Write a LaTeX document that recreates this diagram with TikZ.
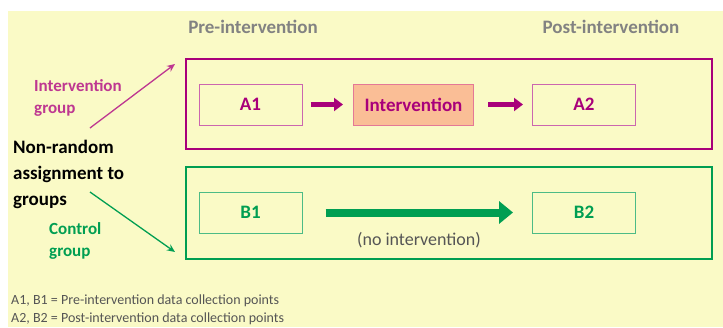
\documentclass[tikz,border=0pt]{standalone}
\usepackage{fontspec}
\setmainfont{Carlito}
\usepackage{xcolor}
\usetikzlibrary{arrows.meta}

\definecolor{bgyellow}{RGB}{250,250,198}
\definecolor{grpmag}{RGB}{168,0,122}
\definecolor{labmag}{RGB}{190,55,145}
\definecolor{intfill}{RGB}{250,190,150}
\definecolor{intdraw}{RGB}{228,120,150}
\definecolor{grpgreen}{RGB}{0,158,82}
\definecolor{headgray}{RGB}{130,130,130}
\definecolor{notegray}{RGB}{85,85,85}

\tikzset{
  groupbox/.style={draw, line width=2pt, minimum width=526pt, inner sep=0pt},
  pointbox/.style={draw, line width=1pt, minimum width=103pt, minimum height=41pt,
    inner sep=0pt, font=\fontsize{19}{22}\selectfont\bfseries},
  head/.style={text=headgray, font=\fontsize{19}{22}\selectfont\bfseries, inner sep=0pt},
  fat/.style={line width=5pt, -{Triangle[length=9pt,width=13pt]}},
}

\begin{document}
\begin{tikzpicture}[x=1pt,y=-1pt]
		\useasboundingbox (0,0) rectangle (723,327);
		\fill[white] (0,0) rectangle (723,327);
		\fill[bgyellow] (8,11) rectangle (723,327);
		% column heads
		\node[head, anchor=base] (pre) at (253,33) {Pre-intervention};
		\node[head, anchor=base] (post) at (611,33) {Post-intervention};
		% groups
		\node[groupbox, draw=grpmag, minimum height=90pt] (igrp) at (449,103.5) {};
		\node[groupbox, draw=grpgreen, minimum height=92pt] (cgrp) at (449,212.5) {};
		\node[pointbox, draw=grpmag!60, text=grpmag] (a1) at (250.5,104.5) {A1};
		\node[pointbox, draw=intdraw, fill=intfill, text=grpmag, minimum width=120pt] (int) at (413.5,104.5) {Intervention};
		\node[pointbox, draw=grpmag!60, text=grpmag] (a2) at (584,104.5) {A2};
		\node[pointbox, draw=grpgreen!70, text=grpgreen] (b1) at (250.5,212.5) {B1};
		\node[pointbox, draw=grpgreen!70, text=grpgreen] (b2) at (584,212.5) {B2};
		\draw[fat, grpmag, shorten <=8pt, shorten >=10pt] (a1) -- (int);
		\draw[fat, grpmag, shorten <=14pt, shorten >=9pt] (int) -- (a2);
		\draw[grpgreen, line width=8pt, -{Triangle[length=14pt,width=22pt]}, shorten <=23pt, shorten >=19pt] (b1) -- (b2);
		\node[font=\fontsize{18}{20}\selectfont, text=notegray, inner sep=0pt, anchor=base] (noint) at (419,245) {(no intervention)};
		% assignment (base = last line)
		\node[font=\fontsize{19}{26}\selectfont\bfseries, align=left, anchor=base west, inner sep=0pt] (nonr) at (13,205) {Non-random\\assignment to\\groups};
		\node[font=\fontsize{17}{22}\selectfont\bfseries, text=labmag, align=left, anchor=base west, inner sep=0pt] (ilab) at (34,113) {Intervention\\group};
		\node[font=\fontsize{17}{22}\selectfont\bfseries, text=grpgreen, align=left, anchor=base west, inner sep=0pt] (clab) at (49,256) {Control\\group};
		\coordinate (ifrom) at (90,128);
		\coordinate (ito) at (175,64);
		\coordinate (cfrom) at (90,192);
		\coordinate (cto) at (175,252);
		\draw[labmag, line width=1.3pt, -{Stealth[length=8pt,width=7pt]}] (ifrom) -- (ito);
		\draw[grpgreen, line width=1.3pt, -{Stealth[length=8pt,width=7pt]}] (cfrom) -- (cto);
		% key
		\node[font=\fontsize{14}{18}\selectfont, text=notegray, align=left, anchor=base west, inner sep=0pt] (key) at (11,322) {A1, B1 = Pre-intervention data collection points\\A2, B2 = Post-intervention data collection points};
		\end{tikzpicture}
\end{document}
